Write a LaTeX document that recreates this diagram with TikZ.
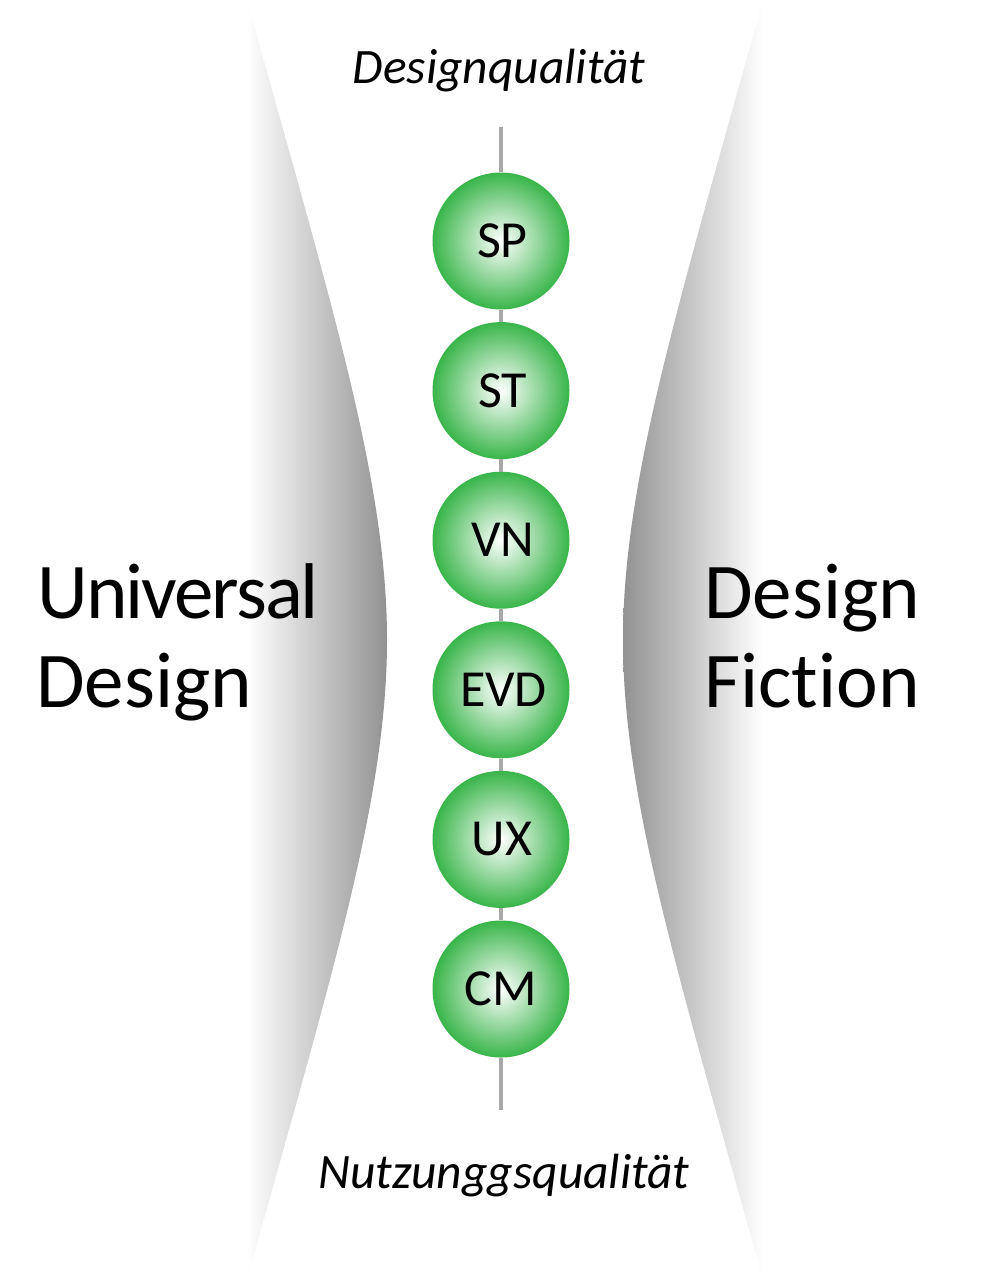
\documentclass[tikz,border=0pt]{standalone}
\usepackage{fontspec}
\setmainfont{Carlito}[Ligatures=NoCommon]
\definecolor{edgegray}{HTML}{929292}
\definecolor{ballgreen}{HTML}{39B54A}
\definecolor{linegray}{HTML}{A8A8A8}
\pgfdeclareradialshading{ballshade}{\pgfpoint{0bp}{0bp}}{color(0bp)=(white); color(25bp)=(ballgreen); color(50bp)=(ballgreen)}
\begin{document}
\begin{tikzpicture}[x=1pt,y=-1pt,
  ball/.style={circle, minimum size=137pt, inner sep=0pt, shade, shading=ballshade, font=\fontsize{52}{60}\selectfont},
  conn/.style={line width=4pt, draw=linegray},
  side/.style={font=\fontsize{79}{89}\selectfont, anchor=base west, inner sep=0pt},
  axislabel/.style={font=\itshape\fontsize{49.5}{56}\selectfont, anchor=base, inner sep=0pt}]
\useasboundingbox (0,0) rectangle (996,1280);
\fill[white] (0,0) rectangle (996,1280);
% side shapes
\shade[left color=white, right color=edgegray] (247,0) .. controls (330,300) and (387,480) .. (387,640) .. controls (387,800) and (330,980) .. (247,1280) -- cycle;
\shade[left color=edgegray, right color=white] (763,0) .. controls (680,300) and (623,480) .. (623,640) .. controls (623,800) and (680,980) .. (763,1280) -- cycle;
% axis
\coordinate (top) at (501,127);
\coordinate (bot) at (501,1110);
\node[ball] (sp)  at (501,241)   {\hspace*{3pt}SP};
\node[ball] (st)  at (501,390.6) {\hspace*{3pt}ST};
\node[ball] (vn)  at (501,540.2) {\hspace*{4pt}VN};
\node[ball] (evd) at (501,689.8) {\hspace*{5pt}EVD};
\node[ball] (ux)  at (501,839.4) {\hspace*{2pt}UX};
\node[ball] (cm)  at (501,989)   {CM};
\draw[conn] (top) -- (sp);
\draw[conn] (sp) -- (st);
\draw[conn] (st) -- (vn);
\draw[conn] (vn) -- (evd);
\draw[conn] (evd) -- (ux);
\draw[conn] (ux) -- (cm);
\draw[conn] (cm) -- (bot);
% labels
\node[axislabel] (dq) at (499,83) {Designqualität};
\node[axislabel] (nq) at (504,1188) {Nutzunggsqualität};
\node[side] (ud1) at (37,618) {\addfontfeature{LetterSpace=-2.5}Universal};
\node[side] (ud2) at (36,707) {Design};
\node[side] (df1) at (704,618) {Design};
\node[side] (df2) at (704,707) {Fiction};
\end{tikzpicture}
\end{document}
